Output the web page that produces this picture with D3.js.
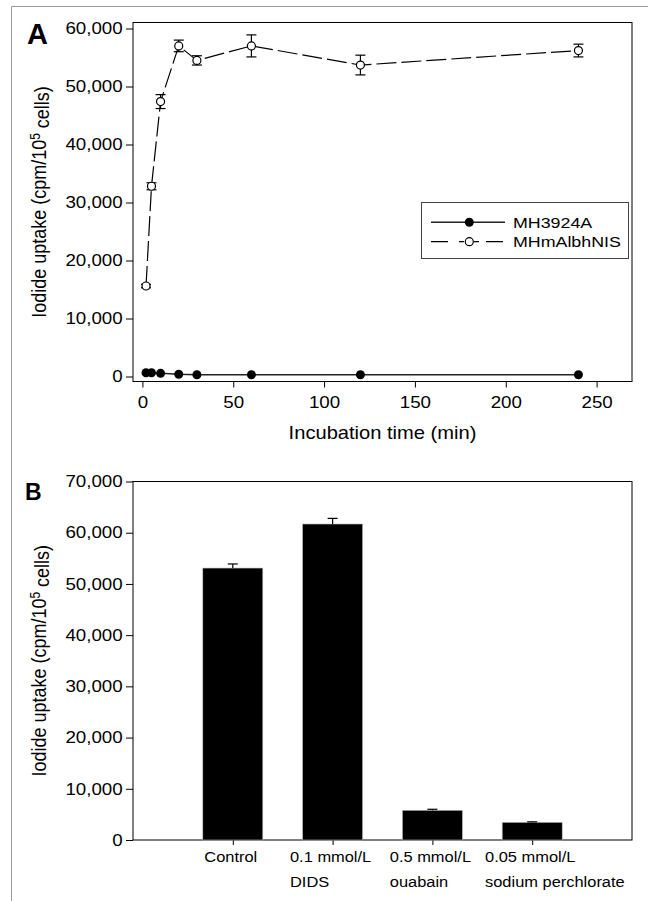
<!DOCTYPE html>
<html>
<head>
<meta charset="utf-8">
<script src="https://cdn.jsdelivr.net/npm/d3@7"></script>
<style>
body { margin: 0; background: #fff; }
svg { display: block; font-family: Arial, "Liberation Sans", sans-serif; }
</style>
</head>
<body>
<script>
var fullWidth = 648;
var fullHeight = 901;
var SX = 1.15; // the original figure text is a bit wider than tall

// panel A : time course
var times = [2, 5, 10, 20, 30, 60, 120, 240];
var mh3924a = [650, 650, 550, 380, 310, 300, 300, 300];
var mhmalbhnis = [15600, 32800, 47400, 57000, 54500, 57000, 53700, 56200];
var mhmalbhnisErr = [300, 600, 1200, 1000, 800, 1900, 1700, 1100];
var xTicksA = [0, 50, 100, 150, 200, 250];
var yTicksA = [0, 10000, 20000, 30000, 40000, 50000, 60000];

// panel B : inhibitors
var treatLine1 = ["Control", "0.1 mmol/L", "0.5 mmol/L", "0.05 mmol/L"];
var treatLine2 = ["", "DIDS", "ouabain", "sodium perchlorate"];
var uptake = [53100, 61700, 5800, 3450];
var uptakeErr = [800, 1100, 200, 100];
var yTicksB = [0, 10000, 20000, 30000, 40000, 50000, 60000, 70000];

var frameA = {left: 133, right: 632, top: 22.5, bottom: 381.5};
var frameB = {left: 133, right: 632, top: 481.5, bottom: 840};

var svg = d3.select("body").append("svg")
    .attr("width", fullWidth)
    .attr("height", fullHeight);

// grey border of the cropped figure
svg.append("path")
   .attr("d", "M11.5,901 V6.5 H648")
   .attr("fill", "none")
   .attr("stroke", "#999")
   .attr("stroke-width", 1);

function stretchText(sel, size) {
    sel.attr("font-size", size)
       .attr("fill", "#000")
       .attr("transform", "scale(" + SX + ",1)");
}

// ---------- panel A ----------
var xA = d3.scaleLinear().domain([0, 250]).range([142.4, 596.6]);
var yA = d3.scaleLinear().domain([0, 60000]).range([376.5, 28.5]);

var gxA = svg.append("g")
    .attr("transform", "translate(0," + frameA.bottom + ")")
    .call(d3.axisBottom(xA).tickValues(xTicksA).tickSize(6).tickPadding(9).tickSizeOuter(0));
gxA.select(".domain").remove();
gxA.selectAll("line").attr("stroke", "#000");
stretchText(gxA.selectAll("text"), "16.3px");

var gyA = svg.append("g")
    .attr("transform", "translate(" + frameA.left + ",0)")
    .call(d3.axisLeft(yA).tickValues(yTicksA).tickSize(7).tickPadding(2)
          .tickFormat(d3.format(",")).tickSizeOuter(0));
gyA.select(".domain").remove();
gyA.selectAll("line").attr("stroke", "#000");
stretchText(gyA.selectAll("text"), "16.3px");

svg.append("rect")
   .attr("x", frameA.left).attr("y", frameA.top)
   .attr("width", frameA.right - frameA.left)
   .attr("height", frameA.bottom - frameA.top)
   .attr("fill", "none").attr("stroke", "#000").attr("stroke-width", 1);

var lineA = d3.line()
    .x(function(d) { return xA(d[0]); })
    .y(function(d) { return yA(d[1]); });

// MH3924A, solid line with filled dots
svg.append("path")
   .attr("d", lineA(d3.zip(times, mh3924a)))
   .attr("fill", "none").attr("stroke", "#222").attr("stroke-width", 1.6);

svg.selectAll(".dotFilled")
   .data(d3.zip(times, mh3924a))
   .enter().append("circle")
   .attr("class", "dotFilled")
   .attr("cx", function(d) { return xA(d[0]); })
   .attr("cy", function(d) { return yA(d[1]); })
   .attr("r", 4.5)
   .attr("fill", "#000");

// MHmAlbhNIS, dashed line with open dots and error bars
svg.append("path")
   .attr("d", lineA(d3.zip(times, mhmalbhnis)))
   .attr("fill", "none").attr("stroke", "#000").attr("stroke-width", 1.2)
   .attr("stroke-dasharray", "20,5");

var errA = svg.selectAll(".errA")
    .data(d3.zip(times, mhmalbhnis, mhmalbhnisErr))
    .enter().append("g").attr("class", "errA")
    .attr("stroke", "#000").attr("stroke-width", 1.2);
errA.append("line")
    .attr("x1", function(d) { return xA(d[0]); })
    .attr("x2", function(d) { return xA(d[0]); })
    .attr("y1", function(d) { return yA(d[1] - d[2]); })
    .attr("y2", function(d) { return yA(d[1] + d[2]); });
[-1, 1].forEach(function(s) {
    errA.append("line")
        .attr("x1", function(d) { return xA(d[0]) - 5; })
        .attr("x2", function(d) { return xA(d[0]) + 5; })
        .attr("y1", function(d) { return yA(d[1] + s * d[2]); })
        .attr("y2", function(d) { return yA(d[1] + s * d[2]); });
});

svg.selectAll(".dotOpen")
   .data(d3.zip(times, mhmalbhnis))
   .enter().append("circle")
   .attr("class", "dotOpen")
   .attr("cx", function(d) { return xA(d[0]); })
   .attr("cy", function(d) { return yA(d[1]); })
   .attr("r", 4)
   .attr("fill", "#fff").attr("stroke", "#000").attr("stroke-width", 1.2);

// legend
var leg = svg.append("g");
leg.append("rect")
   .attr("x", 421.5).attr("y", 202.5).attr("width", 207).attr("height", 56)
   .attr("fill", "#fff").attr("stroke", "#444").attr("stroke-width", 1);
leg.append("line")
   .attr("x1", 431).attr("x2", 505).attr("y1", 222.3).attr("y2", 222.3)
   .attr("stroke", "#222").attr("stroke-width", 1.4);
leg.append("circle").attr("cx", 469.3).attr("cy", 222.3).attr("r", 4.5).attr("fill", "#000");
leg.append("line")
   .attr("x1", 431).attr("x2", 505).attr("y1", 241.7).attr("y2", 241.7)
   .attr("stroke", "#000").attr("stroke-width", 1.2)
   .attr("stroke-dasharray", "17,11,5,10,5,7,17");
leg.append("circle").attr("cx", 469.3).attr("cy", 241.7).attr("r", 4)
   .attr("fill", "#fff").attr("stroke", "#000").attr("stroke-width", 1.2);
[["MH3924A", 227.8], ["MHmAlbhNIS", 247.2]].forEach(function(d) {
    leg.append("g").attr("transform", "translate(513," + d[1] + ")")
       .append("text").text(d[0]).call(stretchText, "15.5px");
});

// axis titles
svg.append("g").attr("transform", "translate(382.5,439)")
   .append("text").attr("text-anchor", "middle")
   .text("Incubation time (min)").call(stretchText, "17.5px");

function yTitle(cy) {
    var t = svg.append("g")
        .attr("transform", "translate(46," + cy + ") scale(" + SX + ",1) rotate(-90)")
        .append("text").attr("text-anchor", "middle").attr("font-size", "18px");
    t.append("tspan").text("Iodide uptake (cpm/10");
    t.append("tspan").attr("dy", "-0.45em").attr("font-size", "12px").text("5");
    t.append("tspan").attr("dy", "0.45em").text(" cells)");
}
yTitle((frameA.top + frameA.bottom) / 2);
yTitle((frameB.top + frameB.bottom) / 2);

// panel letters
svg.append("text").attr("x", 27).attr("y", 44)
   .attr("font-size", "29px").attr("font-weight", "bold").text("A");
svg.append("text").attr("x", 25).attr("y", 500)
   .attr("font-size", "23px").attr("font-weight", "bold").text("B");

// ---------- panel B ----------
var xB = d3.scalePoint().domain(treatLine1).range([frameB.left, frameB.right]).padding(1);
var yB = d3.scaleLinear().domain([0, 70000]).range([frameB.bottom, frameB.top]);

var gyB = svg.append("g")
    .attr("transform", "translate(" + frameB.left + ",0)")
    .call(d3.axisLeft(yB).tickValues(yTicksB).tickSize(7).tickPadding(2)
          .tickFormat(d3.format(",")).tickSizeOuter(0));
gyB.select(".domain").remove();
gyB.selectAll("line").attr("stroke", "#000");
stretchText(gyB.selectAll("text"), "16.3px");

var gxB = svg.append("g")
    .attr("transform", "translate(0," + frameB.bottom + ")")
    .call(d3.axisBottom(xB).tickSize(5).tickFormat("").tickSizeOuter(0));
gxB.select(".domain").remove();
gxB.selectAll("line").attr("stroke", "#000");

svg.append("rect")
   .attr("x", frameB.left).attr("y", frameB.top)
   .attr("width", frameB.right - frameB.left)
   .attr("height", frameB.bottom - frameB.top)
   .attr("fill", "none").attr("stroke", "#000").attr("stroke-width", 1);

svg.selectAll(".bar")
   .data(d3.zip(treatLine1, uptake))
   .enter().append("rect")
   .attr("class", "bar")
   .attr("x", function(d) { return xB(d[0]) - 30; })
   .attr("width", 60)
   .attr("y", function(d) { return yB(d[1]); })
   .attr("height", function(d) { return yB(0) - yB(d[1]); })
   .attr("fill", "#000").attr("stroke", "#bbb").attr("stroke-width", 0.6);

var errB = svg.selectAll(".errB")
    .data(d3.zip(treatLine1, uptake, uptakeErr))
    .enter().append("g").attr("class", "errB")
    .attr("stroke", "#000").attr("stroke-width", 1.2);
errB.append("line")
    .attr("x1", function(d) { return xB(d[0]); })
    .attr("x2", function(d) { return xB(d[0]); })
    .attr("y1", function(d) { return yB(d[1]); })
    .attr("y2", function(d) { return yB(d[1] + d[2]); });
errB.append("line")
    .attr("x1", function(d) { return xB(d[0]) - 5; })
    .attr("x2", function(d) { return xB(d[0]) + 5; })
    .attr("y1", function(d) { return yB(d[1] + d[2]); })
    .attr("y2", function(d) { return yB(d[1] + d[2]); });

// two line category labels, second line starts under the first
treatLine1.forEach(function(c, i) {
    var g = svg.append("g")
        .attr("transform", "translate(" + (xB(c) - 2) + ",0) scale(" + SX + ",1)");
    var t1 = g.append("text").attr("text-anchor", "middle")
        .attr("y", 862).attr("font-size", "14.3px").text(c);
    var w = t1.node().getComputedTextLength();
    g.append("text").attr("x", -w / 2)
        .attr("y", 887).attr("font-size", "14.3px").text(treatLine2[i]);
});
</script>
</body>
</html>
